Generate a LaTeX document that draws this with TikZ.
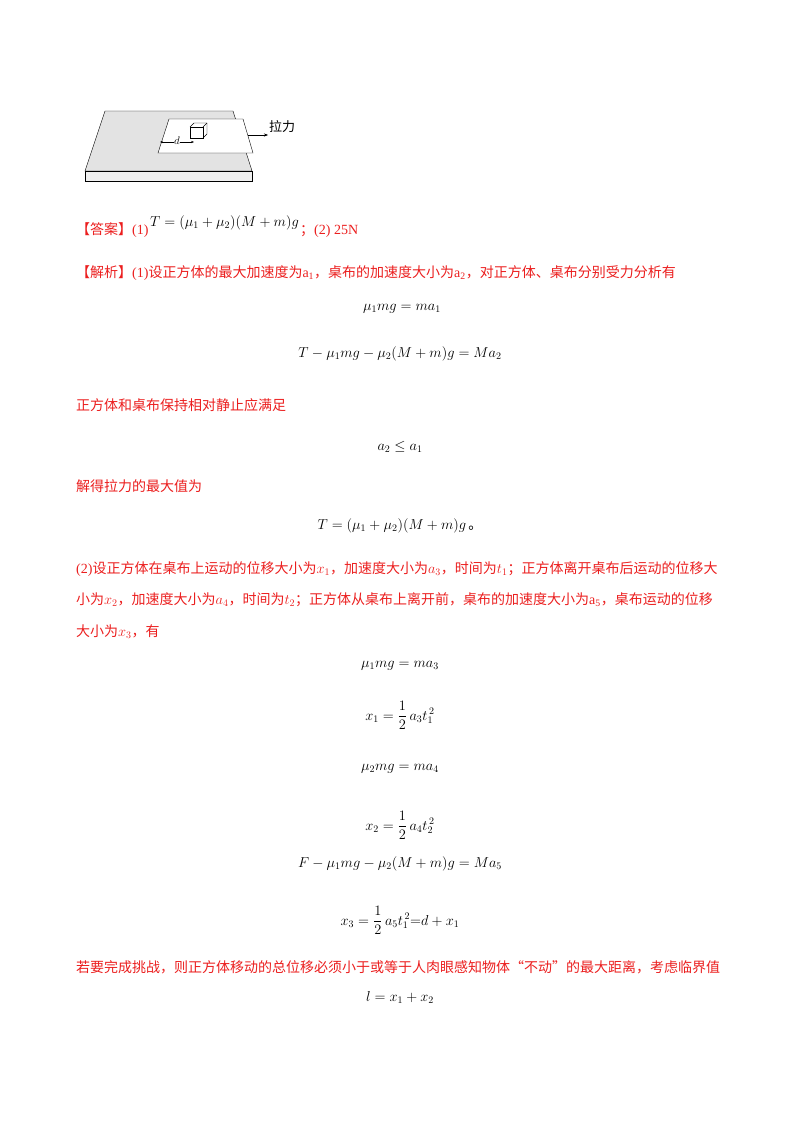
\documentclass[tikz,border=0pt]{standalone}
\usepackage{amsmath}
\usepackage{fontspec}
\setmainfont{Liberation Serif}
\newfontfamily\cjk{Noto Sans CJK SC}
\usetikzlibrary{arrows.meta}
\definecolor{ansred}{RGB}{235,30,30}
\tikzset{
  txt/.style={anchor=base west,inner sep=0pt,text=ansred,font=\fontsize{14}{16}\selectfont},
  eq/.style={anchor=base,inner sep=0pt,font=\fontsize{14}{16}\selectfont},
}
\begin{document}
\begin{tikzpicture}[x=1pt,y=-1pt]
  \useasboundingbox (0,0) rectangle (800,1132);
  % table and cloth
  \draw [fill=gray!22] (105,111) -- (233,111) -- (252,171) -- (85,171) -- cycle;
  \draw [fill=gray!12] (85,171) rectangle (252,181);
  \draw [fill=white] (169,119) -- (243,119) -- (253,153) -- (158,153) -- cycle;
  \draw [fill=white] (190,127) rectangle (203,138);
  \draw (190,127) -- (194,123) -- (207,123) -- (207,134) -- (203,138);
  \draw (203,127) -- (207,123);
  \coordinate (pull) at (248,135);
  \coordinate (pullend) at (268,135);
  \draw [-{Stealth[length=4pt]}] (pull) -- (pullend);
  \node [anchor=west,inner sep=1pt,font=\cjk\fontsize{13}{13}\selectfont] (lali) at (268,127) {拉力};
  \coordinate (dl) at (160,142);
  \coordinate (dr) at (194,142);
  \draw [{Stealth[length=3pt]}-{Stealth[length=3pt]}] (dl) -- (dr);
  \node [fill=white,inner sep=0pt,font=\fontsize{11}{11}\selectfont] (dlab) at (177,141) {$d$};
  % answer
  \node [txt] (ans) at (76,234) {{\cjk 【答案】}(1)};
  \node [eq,anchor=base west] (ans1) at (150,226) {$T=(\mu_1+\mu_2)(M+m)g$};
  \node [txt] (ans2) at (300,234) {{\cjk ；}(2) 25N};
  % part 1
  \node [txt] (jx) at (76,277) {{\cjk 【解析】}(1){\cjk 设正方体的最大加速度为}a\textsubscript{1}{\cjk ，桌布的加速度大小为}a\textsubscript{2}{\cjk ，对正方体、桌布分别受力分析有}};
  \node [eq] (e1) at (402,310) {$\mu_1 mg=ma_1$};
  \node [eq] (e2) at (400,357) {$T-\mu_1 mg-\mu_2(M+m)g=Ma_2$};
  \node [txt] (t2) at (76,410) {\cjk 正方体和桌布保持相对静止应满足};
  \node [eq] (e3) at (400,450) {$a_2\le a_1$};
  \node [txt] (t3) at (76,491) {\cjk 解得拉力的最大值为};
  \node [eq] (e4) at (400,529) {$T=(\mu_1+\mu_2)(M+m)g$\,{\cjk 。}};
  % part 2
  \node [txt] (p1) at (76,573) {(2){\cjk 设正方体在桌布上运动的位移大小为}$x_1${\cjk ，加速度大小为}$a_3${\cjk ，时间为}$t_1${\cjk ；正方体离开桌布后运动的位移大}};
  \node [txt] (p2) at (76,604) {{\cjk 小为}$x_2${\cjk ，加速度大小为}$a_4${\cjk ，时间为}$t_2${\cjk ；正方体从桌布上离开前，桌布的加速度大小为}a\textsubscript{5}{\cjk ，桌布运动的位移}};
  \node [txt] (p3) at (76,636) {{\cjk 大小为}$x_3${\cjk ，有}};
  \node [eq] (e5) at (400,667) {$\mu_1 mg=ma_3$};
  \node [eq] (e6) at (400,720) {$x_1=\dfrac{1}{2}\,a_3t_1^{\,2}$};
  \node [eq] (e7) at (400,770) {$\mu_2 mg=ma_4$};
  \node [eq] (e8) at (400,830) {$x_2=\dfrac{1}{2}\,a_4t_2^{\,2}$};
  \node [eq] (e9) at (400,867) {$F-\mu_1 mg-\mu_2(M+m)g=Ma_5$};
  \node [eq] (e10) at (400,925) {$x_3=\dfrac{1}{2}\,a_5t_1^{\,2}{=}d+x_1$};
  \node [txt] (p4) at (76,972) {\cjk 若要完成挑战，则正方体移动的总位移必须小于或等于人肉眼感知物体“不动”的最大距离，考虑临界值};
  \node [eq] (e11) at (400,1001) {$l=x_1+x_2$};
\end{tikzpicture}
\end{document}
